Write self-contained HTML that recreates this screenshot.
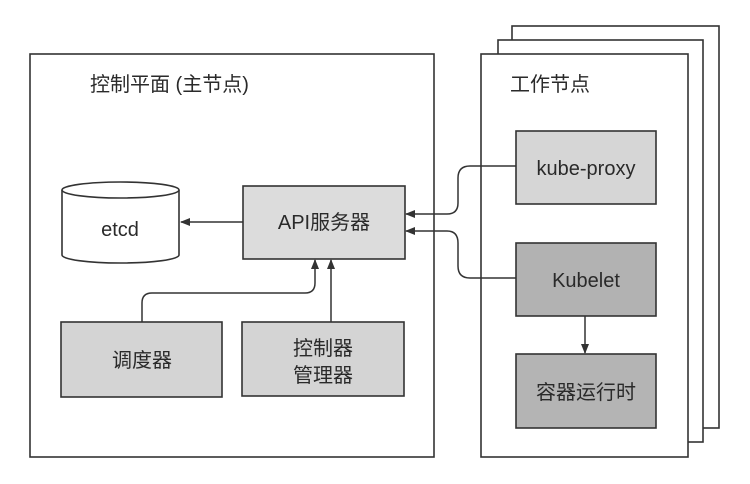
<!DOCTYPE html>
<html><head><meta charset="utf-8"><style>
html,body{margin:0;padding:0;background:#fff;}
svg{display:block;}
text{font-family:"Liberation Sans","Noto Sans CJK SC",sans-serif;fill:#2a2a2a;}
</style></head><body>
<svg width="750" height="484" viewBox="0 0 750 484" xmlns="http://www.w3.org/2000/svg">
<defs>
<marker id="ah" markerWidth="10" markerHeight="8" refX="9" refY="4" orient="auto" markerUnits="userSpaceOnUse">
<path d="M0,0 L10,4 L0,8 Z" fill="#333"/>
</marker>
</defs>
<!-- worker stacked boxes -->
<rect x="512" y="26" width="207" height="402" fill="#fff" stroke="#333" stroke-width="1.6"/>
<rect x="498" y="40" width="205" height="402" fill="#fff" stroke="#333" stroke-width="1.6"/>
<rect x="481" y="54" width="207" height="403" fill="#fff" stroke="#333" stroke-width="1.6"/>
<!-- control plane -->
<rect x="30" y="54" width="404" height="403" fill="#fff" stroke="#333" stroke-width="1.6"/>
<text x="90" y="91" font-size="20">控制平面 (主节点)</text>
<text x="510" y="91" font-size="20">工作节点</text>
<!-- etcd cylinder -->
<path d="M62,190 L62,255 A58.5,8 0 0 0 179,255 L179,190" fill="#fff" stroke="#333" stroke-width="1.6"/>
<ellipse cx="120.5" cy="190" rx="58.5" ry="8" fill="#fff" stroke="#333" stroke-width="1.6"/>
<text x="120" y="236" font-size="20" text-anchor="middle">etcd</text>
<!-- API -->
<rect x="243" y="186" width="162" height="73" fill="#dcdcdc" stroke="#333" stroke-width="1.6"/>
<text x="324" y="229" font-size="20" text-anchor="middle">API服务器</text>
<!-- scheduler -->
<rect x="61" y="322" width="161" height="75" fill="#d4d4d4" stroke="#333" stroke-width="1.6"/>
<text x="142" y="367" font-size="20" text-anchor="middle">调度器</text>
<!-- controller manager -->
<rect x="242" y="322" width="162" height="74" fill="#d4d4d4" stroke="#333" stroke-width="1.6"/>
<text x="323" y="355" font-size="20" text-anchor="middle">控制器</text>
<text x="323" y="382" font-size="20" text-anchor="middle">管理器</text>
<!-- kube-proxy -->
<rect x="516" y="131" width="140" height="73" fill="#d6d6d6" stroke="#333" stroke-width="1.6"/>
<text x="586" y="175" font-size="20" text-anchor="middle">kube-proxy</text>
<!-- kubelet -->
<rect x="516" y="243" width="140" height="73" fill="#b2b2b2" stroke="#333" stroke-width="1.6"/>
<text x="586" y="287" font-size="20" text-anchor="middle">Kubelet</text>
<!-- container runtime -->
<rect x="516" y="354" width="140" height="74" fill="#b4b4b4" stroke="#333" stroke-width="1.6"/>
<text x="586" y="399" font-size="20" text-anchor="middle">容器运行时</text>
<!-- connectors -->
<g fill="none" stroke="#333" stroke-width="1.5">
<path d="M243,222 L181,222" marker-end="url(#ah)"/>
<path d="M516,166 L470,166 Q458,166 458,178 L458,203 Q458,214 447,214 L406,214" marker-end="url(#ah)"/>
<path d="M516,278 L470,278 Q458,278 458,266 L458,243 Q458,231 447,231 L406,231" marker-end="url(#ah)"/>
<path d="M142,322 L142,303 Q142,293 152,293 L305,293 Q315,293 315,283 L315,260" marker-end="url(#ah)"/>
<path d="M331,322 L331,260" marker-end="url(#ah)"/>
<path d="M585,316 L585,353" marker-end="url(#ah)"/>
</g>
</svg>
</body></html>
